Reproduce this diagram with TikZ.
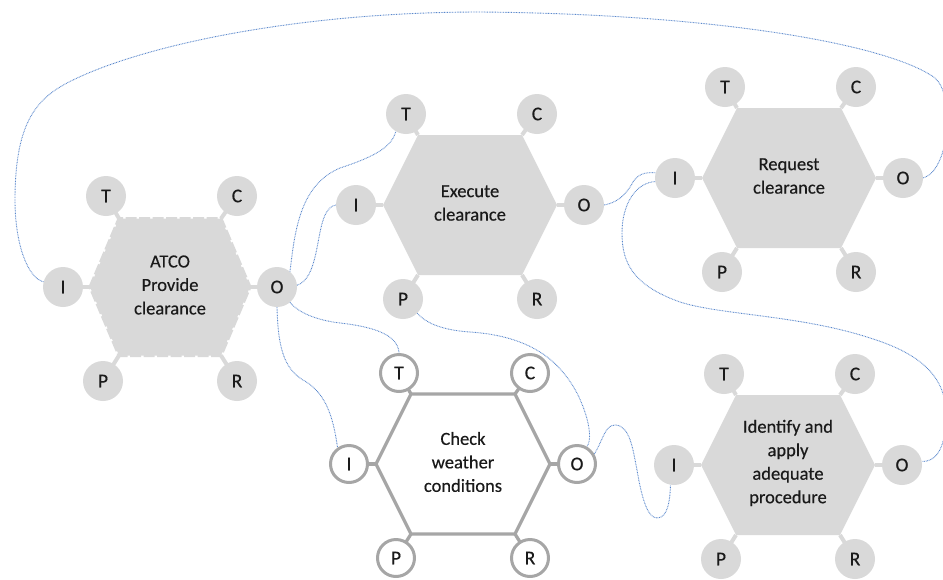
\documentclass[tikz,border=0pt]{standalone}
\usepackage{fontspec}
\setmainfont{Carlito}
\newfontfamily\ftxt{Carlito}[FakeBold=0.35]
\definecolor{hexgray}{HTML}{D9D9D9}
\definecolor{outgray}{HTML}{A6A6A6}
\definecolor{linkblue}{HTML}{5A88CC}
\definecolor{txt}{HTML}{1A1A1A}
\newcommand\fhw{87}\newcommand\fthw{52}\newcommand\fhh{70}\newcommand\fio{114}
\newcommand\framfn[4][]{%
\begin{scope}[shift={#3},#1]
 \draw[stubsty] (-64,-91) -- (-\fthw,-\fhh);
 \draw[stubsty] (67,-91) -- (\fthw,-\fhh);
 \draw[stubsty] (-\fio,0) -- (-\fhw,0);
 \draw[stubsty] (\fio,0) -- (\fhw,0);
 \draw[stubsty] (-67,94) -- (-\fthw,\fhh);
 \draw[stubsty] (67,94) -- (\fthw,\fhh);
 \path[hexsty] (-\fhw,0) -- (-\fthw,-\fhh) -- (\fthw,-\fhh) -- (\fhw,0) -- (\fthw,\fhh) -- (-\fthw,\fhh) -- cycle;
 \node[fname] (#2) at (0,-2) {#4};
 \node[aspsty] (#2T) at (-64,-91) {T};
 \node[aspsty] (#2C) at (67,-91) {C};
 \node[aspsty] (#2I) at (-\fio,0) {I};
 \node[aspsty] (#2O) at (\fio,0) {O};
 \node[aspsty] (#2P) at (-67,94) {P};
 \node[aspsty] (#2R) at (67,94) {R};
\end{scope}}
\begin{document}
\begin{tikzpicture}[x=1pt,y=-1pt,
  stubsty/.style={hexgray, line width=4pt},
  hexsty/.style={fill=hexgray},
  aspsty/.style={circle, fill=hexgray, minimum size=40pt, inner sep=0pt, text=txt, font=\ftxt\fontsize{19.5}{19.5}\selectfont},
  fname/.style={align=center, text=txt, font=\ftxt\fontsize{18.5}{23.5}\selectfont},
  link/.style={linkblue, line width=0.9pt, dash pattern=on 0.8pt off 0.8pt}]
\useasboundingbox (0,0) rectangle (943,579);

% ATCO (rough outline)
\renewcommand\fhw{80}\renewcommand\fthw{51}\renewcommand\fhh{68.5}\renewcommand\fio{107}
\framfn[hexsty/.style={fill=hexgray, draw=hexgray, line width=3pt, dash pattern=on 11pt off 2.5pt}]{h1}{(170,287)}{ATCO\\Provide\\clearance}
\renewcommand\fhw{87}\renewcommand\fthw{52}\renewcommand\fhh{70}\renewcommand\fio{114}

\framfn{h2}{(470,205)}{Execute\\clearance}
\framfn{h3}{(789,178)}{Request\\clearance}
\framfn[stubsty/.style={outgray, line width=3.3pt},
  hexsty/.style={draw=outgray, line width=3.3pt, fill=white},
  aspsty/.style={circle, draw=outgray, line width=3pt, fill=white, minimum size=37pt, inner sep=0pt, text=txt, font=\ftxt\fontsize{19.5}{19.5}\selectfont}]{h4}{(463,464)}{Check\\weather\\conditions}
\framfn{h5}{(788,465)}{Identify and\\apply\\adequate\\procedure}

% connectors
\draw[link] (h1I.165) .. controls (28,278) and (15,245) .. (15,200)
  .. controls (15,125) and (35,100) .. (67,83)
  .. controls (140,45) and (300,12) .. (480,12)
  .. controls (720,14) and (890,45) .. (935,78)
  .. controls (955,95) and (950,170) .. (h3O.east);
\draw[link] (h1O.50) .. controls (295,230) and (300,185) .. (340,168)
  .. controls (380,155) and (392,145) .. (h2T.240);
\draw[link] (h1O.5) .. controls (318,278) and (316,235) .. (325,215)
  .. controls (328,209) and (331,206) .. (h2I.west);
\draw[link] (h1O.-50) .. controls (298,312) and (315,320) .. (340,323)
  .. controls (375,327) and (398,335) .. (h4T.north);
\draw[link] (h1O.south) .. controls (278,345) and (283,368) .. (303,380)
  .. controls (325,392) and (333,415) .. (h4I.125);
\draw[link] (h2P.-45) .. controls (425,322) and (440,330) .. (470,332)
  .. controls (530,336) and (560,360) .. (578,395)
  .. controls (590,420) and (592,440) .. (h4O.60);
\draw[link] (h4O.30) .. controls (603,440) and (605,425) .. (615,425)
  .. controls (630,425) and (633,450) .. (637,470)
  .. controls (642,500) and (648,518) .. (657,518)
  .. controls (668,518) and (670,500) .. (h5I.-100);
\draw[link] (h2O.east) .. controls (615,203) and (625,197) .. (633,182)
  .. controls (638,174) and (645,172) .. (h3I.165);
\draw[link] (h3I.190) .. controls (635,183) and (622,205) .. (622,233)
  .. controls (622,262) and (632,285) .. (680,302)
  .. controls (720,315) and (800,315) .. (870,338)
  .. controls (925,355) and (948,380) .. (946,420)
  .. controls (945,450) and (935,462) .. (h5O.10);
\end{tikzpicture}
\end{document}
